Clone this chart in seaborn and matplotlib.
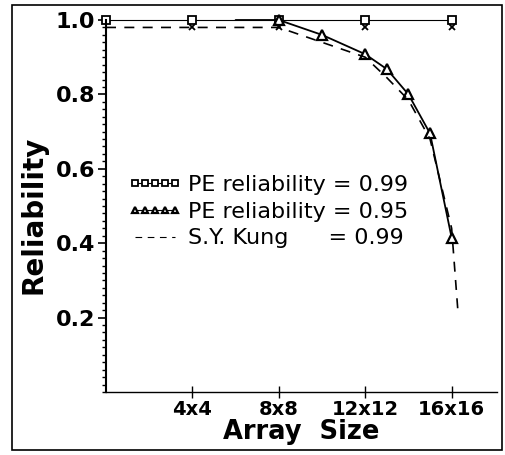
import numpy as np
import pandas as pd
import matplotlib
matplotlib.use('Agg')
import matplotlib.pyplot as plt
import seaborn as sns
from matplotlib.patches import Rectangle
from matplotlib.ticker import MultipleLocator

sns.set_style('white')
plt.rcParams['font.family'] = ['DejaVu Sans']
plt.rcParams['text.color'] = 'black'
plt.rcParams['axes.labelcolor'] = 'black'
plt.rcParams['xtick.color'] = 'black'
plt.rcParams['ytick.color'] = 'black'

# PE reliability = 0.99 (square markers)
pe99_x = [0, 4, 8, 12, 16]
pe99_y = [1.0, 1.0, 1.0, 1.0, 1.0]

# PE reliability = 0.95 (triangle markers)
pe95_x = [6, 8, 10, 12, 13, 14, 15, 16]
pe95_y = [1.0, 1.0, 0.96, 0.908, 0.868, 0.80, 0.695, 0.415]

# S.Y. Kung = 0.99 (dashed)
kung_x = [0, 8, 10, 12, 13, 14, 15, 16, 16.3]
kung_y = [0.98, 0.98, 0.94, 0.90, 0.845, 0.785, 0.68, 0.44, 0.21]

# extra "x" markers under the squares
cross_x = [4, 8, 12, 16]
cross_y = [0.982, 0.982, 0.982, 0.982]

xtick_pos = [4, 8, 12, 16]
xtick_labels = ['4x4', '8x8', '12x12', '16x16']
ytick_pos = [0.2, 0.4, 0.6, 0.8, 1.0]

fig = plt.figure(figsize=(5.05, 4.55), dpi=100)
ax = fig.add_axes([106 / 505, 1 - 392 / 455, 391 / 505, 372 / 455])

sns.lineplot(x=pe99_x, y=pe99_y, ax=ax, color='black', lw=0.8, marker='s',
             markersize=6, markerfacecolor='white', markeredgecolor='black',
             markeredgewidth=1.3, label='PE reliability = 0.99', clip_on=False)
sns.lineplot(x=pe95_x, y=pe95_y, ax=ax, color='black', lw=1.3, marker='^',
             markersize=6.5, markerfacecolor='white', markeredgecolor='black',
             markeredgewidth=1.6, label='PE reliability = 0.95', clip_on=False)
ax.lines[-1].set_markevery(list(range(1, len(pe95_x))))
sns.lineplot(x=kung_x, y=kung_y, ax=ax, color='black', lw=1.2, ls=(0, (6, 5)),
             label='S.Y. Kung     \u2009= 0.99', clip_on=False)
ax.plot(cross_x, cross_y, ls='none', marker='x', color='black', markersize=5,
        mew=1.3, clip_on=False)

ax.set_xlim(0, 18.1)
ax.set_ylim(0, 1.0)
ax.set_xticks(xtick_pos)
ax.set_xticklabels(xtick_labels, fontsize=14, fontweight='bold')
ax.set_yticks(ytick_pos)
ax.set_yticklabels([f'{v:.1f}' for v in ytick_pos], fontsize=16, fontweight='bold')
ax.yaxis.set_minor_locator(MultipleLocator(0.02))
ax.tick_params(axis='y', which='major', direction='out', length=6, width=1.2, left=True, pad=2)
ax.tick_params(axis='y', which='minor', direction='out', length=3, width=1, left=True)
ax.tick_params(axis='x', which='major', direction='inout', length=8, width=1, bottom=True, pad=2)

ax.set_xlabel('Array  Size', fontsize=18.5, fontweight='bold', labelpad=0)
ax.set_ylabel('Reliability', fontsize=20, fontweight='bold')
ax.yaxis.set_label_coords(-0.15, 0.475)

for s in ['top', 'right']:
    ax.spines[s].set_visible(False)
ax.spines['left'].set_linewidth(1.5)
ax.spines['bottom'].set_linewidth(1.0)
for s in ['left', 'bottom']:
    ax.spines[s].set_color('black')

leg = ax.legend(loc='upper left', bbox_to_anchor=(0.028, 0.613), frameon=False,
                fontsize=16, numpoints=5, handlelength=2.4, handletextpad=0.28,
                labelspacing=0.3, borderpad=0)
for h in leg.legend_handles:
    h.set_markersize(4)
    h.set_linewidth(0.8)

fig.patches.append(Rectangle((12 / 505, 5 / 455), 490 / 505, 445 / 455,
                             transform=fig.transFigure, fill=False,
                             edgecolor='black', lw=1.2))

fig.savefig('out.png', dpi=100)
